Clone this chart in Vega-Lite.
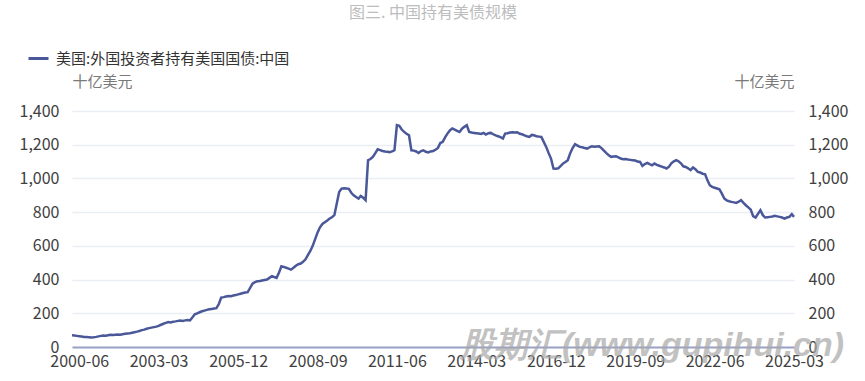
{
 "$schema": "https://vega.github.io/schema/vega-lite/v6.json",
 "width": 722,
 "height": 236,
 "autosize": {"type": "none"},
 "padding": {"left": 72, "top": 111, "right": 71, "bottom": 34},
 "background": "white",
 "config": {"view": {"stroke": null}, "font": "Noto Sans CJK SC"},
 "title": {"text": "图三. 中国持有美债规模", "color": "#bdbdbd", "fontSize": 16, "fontWeight": "normal", "font": "Noto Sans CJK SC", "anchor": "middle", "frame": "group", "offset": 26},
 "data": {"values": [
 {"d":"2000-03","v":69},{"d":"2000-04","v":68},{"d":"2000-05","v":66},{"d":"2000-06","v":64},{"d":"2000-07","v":62},{"d":"2000-08","v":60},{"d":"2000-09","v":59},{"d":"2000-10","v":58},{"d":"2000-11","v":57},{"d":"2000-12","v":58},
 {"d":"2001-01","v":60},{"d":"2001-02","v":63},{"d":"2001-03","v":66},{"d":"2001-04","v":68},{"d":"2001-05","v":67},{"d":"2001-06","v":70},{"d":"2001-07","v":72},{"d":"2001-08","v":71},{"d":"2001-09","v":73},{"d":"2001-10","v":74},{"d":"2001-11","v":73},{"d":"2001-12","v":76},
 {"d":"2002-01","v":78},{"d":"2002-02","v":80},{"d":"2002-03","v":82},{"d":"2002-04","v":85},{"d":"2002-05","v":88},{"d":"2002-06","v":91},{"d":"2002-07","v":95},{"d":"2002-08","v":100},{"d":"2002-09","v":103},{"d":"2002-10","v":108},{"d":"2002-11","v":112},{"d":"2002-12","v":115},
 {"d":"2003-01","v":118},{"d":"2003-02","v":121},{"d":"2003-03","v":125},{"d":"2003-04","v":132},{"d":"2003-05","v":138},{"d":"2003-06","v":143},{"d":"2003-07","v":148},{"d":"2003-08","v":146},{"d":"2003-09","v":150},{"d":"2003-10","v":152},{"d":"2003-11","v":155},{"d":"2003-12","v":157},
 {"d":"2004-01","v":155},{"d":"2004-02","v":158},{"d":"2004-03","v":160},{"d":"2004-04","v":158},{"d":"2004-05","v":175},{"d":"2004-06","v":194},{"d":"2004-07","v":200},{"d":"2004-08","v":206},{"d":"2004-09","v":212},{"d":"2004-10","v":216},{"d":"2004-11","v":220},{"d":"2004-12","v":224},
 {"d":"2005-01","v":226},{"d":"2005-02","v":228},{"d":"2005-03","v":230},{"d":"2005-04","v":255},{"d":"2005-05","v":293},{"d":"2005-06","v":296},{"d":"2005-07","v":300},{"d":"2005-08","v":303},{"d":"2005-09","v":301},{"d":"2005-10","v":305},{"d":"2005-11","v":308},{"d":"2005-12","v":312},
 {"d":"2006-01","v":316},{"d":"2006-02","v":320},{"d":"2006-03","v":323},{"d":"2006-04","v":325},{"d":"2006-05","v":350},{"d":"2006-06","v":376},{"d":"2006-07","v":385},{"d":"2006-08","v":390},{"d":"2006-09","v":392},{"d":"2006-10","v":395},{"d":"2006-11","v":398},{"d":"2006-12","v":400},
 {"d":"2007-01","v":410},{"d":"2007-02","v":420},{"d":"2007-03","v":415},{"d":"2007-04","v":410},{"d":"2007-05","v":440},{"d":"2007-06","v":479},{"d":"2007-07","v":475},{"d":"2007-08","v":470},{"d":"2007-09","v":465},{"d":"2007-10","v":459},{"d":"2007-11","v":470},{"d":"2007-12","v":482},
 {"d":"2008-01","v":491},{"d":"2008-02","v":495},{"d":"2008-03","v":505},{"d":"2008-04","v":520},{"d":"2008-05","v":545},{"d":"2008-06","v":570},{"d":"2008-07","v":600},{"d":"2008-08","v":640},{"d":"2008-09","v":680},{"d":"2008-10","v":710},{"d":"2008-11","v":730},{"d":"2008-12","v":740},
 {"d":"2009-01","v":750},{"d":"2009-02","v":762},{"d":"2009-03","v":770},{"d":"2009-04","v":782},{"d":"2009-05","v":850},{"d":"2009-06","v":920},{"d":"2009-07","v":940},{"d":"2009-08","v":942},{"d":"2009-09","v":940},{"d":"2009-10","v":938},{"d":"2009-11","v":915},{"d":"2009-12","v":900},
 {"d":"2010-01","v":890},{"d":"2010-02","v":880},{"d":"2010-03","v":896},{"d":"2010-04","v":885},{"d":"2010-05","v":871},{"d":"2010-06","v":1108},{"d":"2010-07","v":1115},{"d":"2010-08","v":1128},{"d":"2010-09","v":1150},{"d":"2010-10","v":1173},{"d":"2010-11","v":1168},{"d":"2010-12","v":1163},
 {"d":"2011-01","v":1160},{"d":"2011-02","v":1158},{"d":"2011-03","v":1155},{"d":"2011-04","v":1160},{"d":"2011-05","v":1167},{"d":"2011-06","v":1316},{"d":"2011-07","v":1312},{"d":"2011-08","v":1290},{"d":"2011-09","v":1276},{"d":"2011-10","v":1265},{"d":"2011-11","v":1256},{"d":"2011-12","v":1167},
 {"d":"2012-01","v":1165},{"d":"2012-02","v":1160},{"d":"2012-03","v":1151},{"d":"2012-04","v":1162},{"d":"2012-05","v":1167},{"d":"2012-06","v":1158},{"d":"2012-07","v":1154},{"d":"2012-08","v":1160},{"d":"2012-09","v":1163},{"d":"2012-10","v":1170},{"d":"2012-11","v":1181},{"d":"2012-12","v":1210},
 {"d":"2013-01","v":1217},{"d":"2013-02","v":1245},{"d":"2013-03","v":1266},{"d":"2013-04","v":1285},{"d":"2013-05","v":1296},{"d":"2013-06","v":1290},{"d":"2013-07","v":1282},{"d":"2013-08","v":1276},{"d":"2013-09","v":1295},{"d":"2013-10","v":1306},{"d":"2013-11","v":1316},{"d":"2013-12","v":1276},
 {"d":"2014-01","v":1272},{"d":"2014-02","v":1270},{"d":"2014-03","v":1268},{"d":"2014-04","v":1266},{"d":"2014-05","v":1264},{"d":"2014-06","v":1270},{"d":"2014-07","v":1260},{"d":"2014-08","v":1268},{"d":"2014-09","v":1270},{"d":"2014-10","v":1262},{"d":"2014-11","v":1255},{"d":"2014-12","v":1250},
 {"d":"2015-01","v":1245},{"d":"2015-02","v":1237},{"d":"2015-03","v":1266},{"d":"2015-04","v":1268},{"d":"2015-05","v":1272},{"d":"2015-06","v":1274},{"d":"2015-07","v":1272},{"d":"2015-08","v":1274},{"d":"2015-09","v":1265},{"d":"2015-10","v":1262},{"d":"2015-11","v":1255},{"d":"2015-12","v":1250},
 {"d":"2016-01","v":1246},{"d":"2016-02","v":1258},{"d":"2016-03","v":1256},{"d":"2016-04","v":1250},{"d":"2016-05","v":1248},{"d":"2016-06","v":1246},{"d":"2016-07","v":1217},{"d":"2016-08","v":1187},{"d":"2016-09","v":1150},{"d":"2016-10","v":1118},{"d":"2016-11","v":1059},{"d":"2016-12","v":1058},
 {"d":"2017-01","v":1060},{"d":"2017-02","v":1075},{"d":"2017-03","v":1088},{"d":"2017-04","v":1098},{"d":"2017-05","v":1108},{"d":"2017-06","v":1150},{"d":"2017-07","v":1180},{"d":"2017-08","v":1203},{"d":"2017-09","v":1195},{"d":"2017-10","v":1187},{"d":"2017-11","v":1185},{"d":"2017-12","v":1180},
 {"d":"2018-01","v":1177},{"d":"2018-02","v":1185},{"d":"2018-03","v":1191},{"d":"2018-04","v":1188},{"d":"2018-05","v":1190},{"d":"2018-06","v":1191},{"d":"2018-07","v":1180},{"d":"2018-08","v":1165},{"d":"2018-09","v":1150},{"d":"2018-10","v":1138},{"d":"2018-11","v":1128},{"d":"2018-12","v":1130},
 {"d":"2019-01","v":1132},{"d":"2019-02","v":1125},{"d":"2019-03","v":1118},{"d":"2019-04","v":1114},{"d":"2019-05","v":1115},{"d":"2019-06","v":1112},{"d":"2019-07","v":1110},{"d":"2019-08","v":1108},{"d":"2019-09","v":1106},{"d":"2019-10","v":1100},{"d":"2019-11","v":1098},{"d":"2019-12","v":1074},
 {"d":"2020-01","v":1085},{"d":"2020-02","v":1092},{"d":"2020-03","v":1085},{"d":"2020-04","v":1078},{"d":"2020-05","v":1088},{"d":"2020-06","v":1080},{"d":"2020-07","v":1075},{"d":"2020-08","v":1070},{"d":"2020-09","v":1065},{"d":"2020-10","v":1059},{"d":"2020-11","v":1070},{"d":"2020-12","v":1090},
 {"d":"2021-01","v":1102},{"d":"2021-02","v":1108},{"d":"2021-03","v":1102},{"d":"2021-04","v":1090},{"d":"2021-05","v":1072},{"d":"2021-06","v":1068},{"d":"2021-07","v":1060},{"d":"2021-08","v":1049},{"d":"2021-09","v":1065},{"d":"2021-10","v":1055},{"d":"2021-11","v":1039},{"d":"2021-12","v":1035},
 {"d":"2022-01","v":1028},{"d":"2022-02","v":1025},{"d":"2022-03","v":990},{"d":"2022-04","v":960},{"d":"2022-05","v":950},{"d":"2022-06","v":945},{"d":"2022-07","v":940},{"d":"2022-08","v":935},{"d":"2022-09","v":910},{"d":"2022-10","v":881},{"d":"2022-11","v":870},{"d":"2022-12","v":865},
 {"d":"2023-01","v":861},{"d":"2023-02","v":858},{"d":"2023-03","v":855},{"d":"2023-04","v":862},{"d":"2023-05","v":871},{"d":"2023-06","v":855},{"d":"2023-07","v":841},{"d":"2023-08","v":828},{"d":"2023-09","v":815},{"d":"2023-10","v":776},{"d":"2023-11","v":768},{"d":"2023-12","v":790},
 {"d":"2024-01","v":811},{"d":"2024-02","v":782},{"d":"2024-03","v":768},{"d":"2024-04","v":770},{"d":"2024-05","v":772},{"d":"2024-06","v":774},{"d":"2024-07","v":778},{"d":"2024-08","v":775},{"d":"2024-09","v":772},{"d":"2024-10","v":768},{"d":"2024-11","v":762},{"d":"2024-12","v":768},
 {"d":"2025-01","v":772},{"d":"2025-02","v":788},{"d":"2025-03","v":772}
 ]},
 "layer": [
  {
   "mark": {"type": "line", "strokeWidth": 2.5, "interpolate": "linear"},
   "encoding": {
    "x": {"field": "d", "type": "temporal",
     "scale": {"type": "utc", "domain": [{"year": 2000, "month": 3, "date": 1, "utc": true}, {"year": 2025, "month": 3, "date": 1, "utc": true}]},
     "axis": {"orient": "bottom", "title": null, "format": "%Y-%m",
      "values": [{"year": 2000, "month": 6, "date": 1, "utc": true}, {"year": 2003, "month": 3, "date": 1, "utc": true}, {"year": 2005, "month": 12, "date": 1, "utc": true}, {"year": 2008, "month": 9, "date": 1, "utc": true}, {"year": 2011, "month": 6, "date": 1, "utc": true}, {"year": 2014, "month": 3, "date": 1, "utc": true}, {"year": 2016, "month": 12, "date": 1, "utc": true}, {"year": 2019, "month": 9, "date": 1, "utc": true}, {"year": 2022, "month": 6, "date": 1, "utc": true}, {"year": 2025, "month": 3, "date": 1, "utc": true}],
      "labelFontSize": 16, "labelColor": "#404040", "labelFont": "Noto Sans CJK SC", "labelPadding": 6, "ticks": false, "grid": false,
      "domainColor": "#9aa2c8", "domainWidth": 2, "labelFlush": false, "labelOverlap": false}},
    "y": {"field": "v", "type": "quantitative",
     "scale": {"domain": [0, 1400], "nice": false},
     "axis": {"orient": "left", "values": [0, 200, 400, 600, 800, 1000, 1200, 1400], "format": ",d",
      "title": "十亿美元", "titleAngle": 0, "titleAlign": "left", "titleBaseline": "middle", "titleX": 0, "titleY": -30,
      "titleFontSize": 15, "titleFontWeight": "normal", "titleColor": "#7a7a7a", "titleFont": "Noto Sans CJK SC",
      "labelFontSize": 16, "labelColor": "#404040", "labelFont": "Noto Sans CJK SC", "labelPadding": 13,
      "ticks": false, "domain": false, "grid": true, "gridColor": "#eceef6", "gridWidth": 1.5}},
    "color": {"datum": "美国:外国投资者持有美国国债:中国", "type": "nominal",
     "scale": {"range": ["#4a5899"]},
     "legend": {"orient": "none", "legendX": -45, "legendY": -64, "title": null, "padding": 0,
      "symbolType": "stroke", "symbolSize": 400, "symbolStrokeWidth": 3, "labelLimit": 500,
      "labelFontSize": 15, "labelColor": "#333333", "labelFont": "Noto Sans CJK SC", "labelOffset": 6}}
   }
  },
  {
   "mark": {"type": "line", "strokeOpacity": 0},
   "encoding": {
    "x": {"field": "d", "type": "temporal"},
    "y": {"field": "v", "type": "quantitative",
     "scale": {"domain": [0, 1400], "nice": false},
     "axis": {"orient": "right", "values": [0, 200, 400, 600, 800, 1000, 1200, 1400], "format": ",d",
      "title": "十亿美元", "titleAngle": 0, "titleAlign": "right", "titleBaseline": "middle", "titleX": 0, "titleY": -30,
      "titleFontSize": 15, "titleFontWeight": "normal", "titleColor": "#7a7a7a", "titleFont": "Noto Sans CJK SC",
      "labelFontSize": 16, "labelColor": "#404040", "labelFont": "Noto Sans CJK SC", "labelPadding": 14,
      "ticks": false, "domain": false, "grid": false}}
   }
  },
  {
   "data": {"values": [{"t": "股期汇(www.gupihui.cn)"}]},
   "mark": {"type": "text", "font": "Liberation Sans", "fontWeight": "bold", "fontStyle": "italic", "fontSize": 34, "color": "#a8a8a8", "opacity": 0.7, "align": "center", "baseline": "middle"},
   "encoding": {
    "x": {"datum": {"year": 2020, "month": 4, "date": 1, "utc": true}, "type": "temporal"},
    "y": {"datum": 8, "type": "quantitative", "scale": {"domain": [0, 1400], "nice": false}, "axis": null},
    "text": {"field": "t", "type": "nominal"}
   }
  }
 ],
 "resolve": {"scale": {"y": "independent"}, "axis": {"y": "independent"}}
}
